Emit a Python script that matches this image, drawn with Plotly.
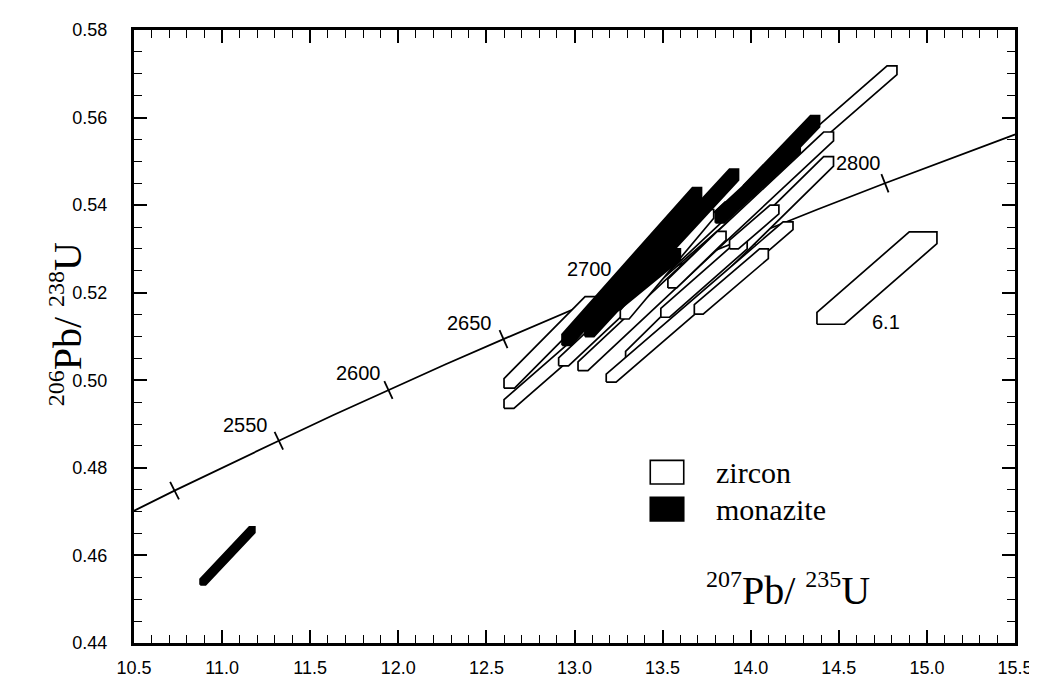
import numpy as np
import plotly.graph_objects as go

# ---------------- data ----------------
# concordia curve (207Pb/235U , 206Pb/238U) at ages in Ma
conc_age = [2475, 2480, 2500, 2525, 2550, 2575, 2600, 2625, 2650, 2675,
            2700, 2725, 2750, 2775, 2800, 2825, 2850]
conc_x = [10.444, 10.501, 10.730, 11.022, 11.322, 11.629, 11.944, 12.266,
          12.597, 12.936, 13.283, 13.639, 14.004, 14.378, 14.762, 15.155, 15.557]
conc_y = [0.4690, 0.4702, 0.4748, 0.4805, 0.4862, 0.4920, 0.4978, 0.5036,
          0.5094, 0.5153, 0.5212, 0.5271, 0.5330, 0.5390, 0.5450, 0.5510, 0.5570]

tick_ages = [2500, 2550, 2600, 2650, 2700, 2750, 2800]
label_ages = [2550, 2600, 2650, 2700, 2800]

# zircon error boxes: lower-left end (x0,y0), upper-right end (x1,y1), end widths (ex, ey)
zircon_x0 = [12.60, 12.60, 12.91, 13.02, 13.29, 13.18, 13.49, 13.68, 13.53, 13.26, 13.88, 14.376]
zircon_y0 = [0.4936, 0.4982, 0.5033, 0.5022, 0.5044, 0.4996, 0.5144, 0.5151, 0.5211, 0.5140, 0.5300, 0.5128]
zircon_x1 = [14.83, 13.12, 13.91, 14.47, 14.47, 14.24, 13.98, 14.10, 13.86, 13.79, 14.16, 15.057]
zircon_y1 = [0.5718, 0.5191, 0.5407, 0.5567, 0.5511, 0.5362, 0.5320, 0.5300, 0.5340, 0.5390, 0.5400, 0.5339]
zircon_ex = [0.056, 0.06, 0.056, 0.056, 0.056, 0.056, 0.05, 0.05, 0.05, 0.05, 0.05, 0.157]
zircon_ey = [0.0020, 0.0022, 0.0018, 0.0020, 0.0022, 0.0018, 0.0020, 0.0022, 0.0020, 0.0020, 0.0020, 0.0027]

# monazite error boxes
monazite_x0 = [12.93, 13.06, 13.96, 13.10, 13.80, 13.20, 10.876]
monazite_y0 = [0.5080, 0.5100, 0.5420, 0.5140, 0.5360, 0.5160, 0.4533]
monazite_x1 = [13.72, 13.93, 14.39, 13.55, 14.28, 13.60, 11.185]
monazite_y1 = [0.5440, 0.5482, 0.5604, 0.5330, 0.5545, 0.5300, 0.4665]
monazite_ex = [0.05, 0.05, 0.05, 0.05, 0.05, 0.05, 0.03]
monazite_ey = [0.0025, 0.0025, 0.0025, 0.0025, 0.0025, 0.0025, 0.0013]

x_ticks = [10.5, 11.0, 11.5, 12.0, 12.5, 13.0, 13.5, 14.0, 14.5, 15.0, 15.5]
y_ticks = [0.44, 0.46, 0.48, 0.50, 0.52, 0.54, 0.56, 0.58]

# ---------------- layout geometry ----------------
W, H = 1037, 682
ML, MR, MT, MB = 126, 26, 15, 37
XR = [10.5, 15.5]
YR = [0.44, 0.58]
px_x = (W - ML - MR) / (XR[1] - XR[0])
px_y = (H - MT - MB) / (YR[1] - YR[0])

SERIF = "Liberation Serif, Times New Roman, serif"
SANS = "Liberation Sans, Arial, Helvetica, sans-serif"

fig = go.Figure()

# concordia
fig.add_trace(go.Scatter(x=conc_x, y=conc_y, mode="lines",
                         line=dict(color="black", width=1.8),
                         hoverinfo="skip", showlegend=False))

# age ticks on the concordia (perpendicular marks)
tx = [conc_x[conc_age.index(a)] for a in tick_ages]
ty = [conc_y[conc_age.index(a)] for a in tick_ages]
angles = []
for a in tick_ages:
    i = conc_age.index(a)
    dxp = (conc_x[i + 1] - conc_x[i - 1]) * px_x
    dyp = (conc_y[i + 1] - conc_y[i - 1]) * px_y
    angles.append(-np.degrees(np.arctan2(dyp, dxp)))
fig.add_trace(go.Scatter(x=tx, y=ty, mode="markers",
                         marker=dict(symbol="line-ns", size=14, angle=angles,
                                     line=dict(color="black", width=1.8)),
                         hoverinfo="skip", showlegend=False))


def hexagon(x0, y0, x1, y1, ex, ey):
    xs = [x0, x0 + ex, x1, x1, x1 - ex, x0, x0]
    ys = [y0, y0, y1 - ey, y1, y1, y0 + ey, y0]
    return xs, ys


for x0, y0, x1, y1, ex, ey in zip(zircon_x0, zircon_y0, zircon_x1, zircon_y1, zircon_ex, zircon_ey):
    xs, ys = hexagon(x0, y0, x1, y1, ex, ey)
    fig.add_trace(go.Scatter(x=xs, y=ys, mode="lines", fill="toself",
                             fillcolor="white", line=dict(color="black", width=1.7),
                             hoverinfo="skip", showlegend=False))

for x0, y0, x1, y1, ex, ey in zip(monazite_x0, monazite_y0, monazite_x1, monazite_y1, monazite_ex, monazite_ey):
    xs, ys = hexagon(x0, y0, x1, y1, ex, ey)
    fig.add_trace(go.Scatter(x=xs, y=ys, mode="lines", fill="toself",
                             fillcolor="black", line=dict(color="black", width=2),
                             hoverinfo="skip", showlegend=False))

annotations = []
label_shift = {2550: (-33, 16), 2600: (-30, 17), 2650: (-34, 16), 2700: (-35, 18), 2800: (-26, 20)}
for a in label_ages:
    i = conc_age.index(a)
    sx, sy = label_shift[a]
    annotations.append(dict(x=conc_x[i], y=conc_y[i], xref="x", yref="y",
                            text=str(a), showarrow=False, xshift=sx, yshift=sy,
                            font=dict(family=SANS, size=20, color="black")))
annotations.append(dict(x=14.77, y=0.5133, xref="x", yref="y", text="6.1",
                        showarrow=False, font=dict(family=SANS, size=20, color="black")))

# axis titles
SUP = '<span style="font-size:24px">{}</span>'
annotations.append(dict(x=14.21, y=0.4522, xref="x", yref="y",
                        text="<sup>" + SUP.format("207") + "</sup>Pb/ <sup>" + SUP.format("235") + "</sup>U",
                        showarrow=False,
                        font=dict(family=SERIF, size=40, color="black")))
annotations.append(dict(x=-0.106, y=0.52, xref="paper", yref="paper", textangle=-90,
                        text="<sup>" + SUP.format("206") + "</sup>Pb/ <sup>" + SUP.format("238") + "</sup>U",
                        showarrow=False,
                        font=dict(family=SERIF, size=40, color="black")))

# legend (drawn)
leg_names = ["zircon", "monazite"]
leg_fill = ["white", "black"]
leg_y = [0.4790, 0.4706]
shapes = []
for name, fc, yc in zip(leg_names, leg_fill, leg_y):
    shapes.append(dict(type="rect", xref="x", yref="y",
                       x0=13.43, x1=13.62, y0=yc - 0.0027, y1=yc + 0.0027,
                       fillcolor=fc, line=dict(color="black", width=1.6)))
    annotations.append(dict(x=13.79, y=yc, xref="x", yref="y", text=name,
                            xanchor="left", showarrow=False,
                            font=dict(family=SERIF, size=30, color="black")))

axis_common = dict(showgrid=False, zeroline=False, showline=True, linecolor="black",
                   linewidth=3, mirror="allticks", ticks="inside", ticklen=13,
                   tickwidth=1.6, tickcolor="black",
                   tickfont=dict(family=SANS, size=18, color="black"))

fig.update_layout(
    width=W, height=H,
    margin=dict(l=ML, r=MR, t=MT, b=MB),
    paper_bgcolor="white", plot_bgcolor="white",
    xaxis=dict(range=XR, tickvals=x_ticks, tickformat=".1f", ticklabelstandoff=6,
               minor=dict(ticks="inside", ticklen=8, dtick=0.1, tick0=10.5,
                          tickcolor="black", tickwidth=1.3),
               **axis_common),
    yaxis=dict(range=YR, tickvals=y_ticks, tickformat=".2f", ticklabelstandoff=20,
               minor=dict(ticks="inside", ticklen=8, dtick=0.005, tick0=0.44,
                          tickcolor="black", tickwidth=1.3),
               **axis_common),
    shapes=shapes,
    annotations=annotations,
)

fig.write_html("out.html")
